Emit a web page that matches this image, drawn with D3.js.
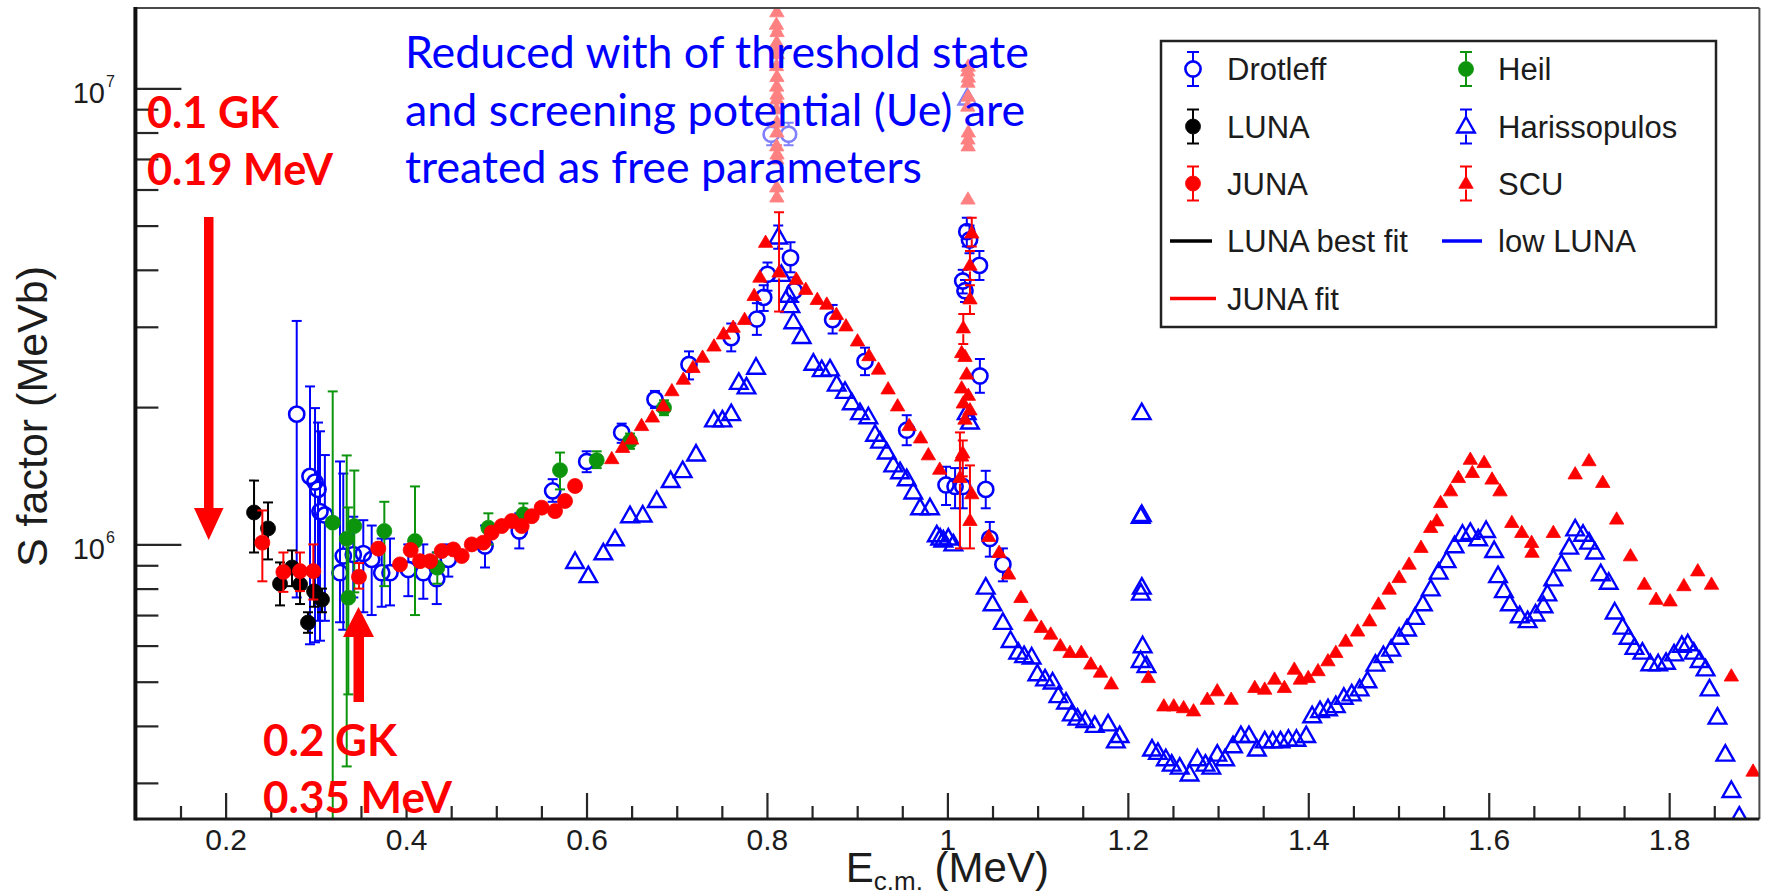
<!DOCTYPE html>
<html>
<head>
<meta charset="utf-8">
<script src="https://cdn.jsdelivr.net/npm/d3@7"></script>
<style>
  html, body { margin: 0; padding: 0; background: #ffffff; }
  svg { display: block; }
</style>
</head>
<body>
<svg id="chart" width="1770" height="896"></svg>
<script>
// ---------------------------------------------------------------
// S-factor data sets: [E_cm (MeV), S (MeV b), S_low, S_high]
// (S_low / S_high are the ends of the error bar, omitted if tiny)
// ---------------------------------------------------------------
const drotleff = [
  [0.2788, 1.93e6, 7.65e5, 3.09e6], [0.2935, 1.41e6, 6.04e5, 2.22e6],
  [0.2991, 1.37e6, 6.1e5, 1.99e6], [0.3024, 1.32e6, 6.8e5, 1.85e6],
  [0.3046, 1.18e6, 6.15e5, 1.77e6], [0.3100, 1.16e6, 6.8e5, 1.57e6],
  [0.3268, 8.67e5, 6.75e5, 1.52e6], [0.3304, 9.43e5, 6.5e5, 1.43e6],
  [0.3415, 9.5e5, 7.65e5, 1.15e6], [0.3526, 9.55e5, 7.1e5, 1.13e6],
  [0.3619, 9.27e5, 7.0e5, 1.10e6], [0.3730, 8.67e5, 7.3e5, 1.03e6],
  [0.3822, 8.67e5, 7.35e5, 1.03e6], [0.4025, 8.81e5, 7.7e5, 1.0e6],
  [0.4191, 8.67e5, 7.6e5, 1.0e6], [0.4340, 8.41e5, 7.4e5, 9.6e5],
  [0.4468, 9.27e5, 8.5e5, 1.0e6], [0.4875, 9.92e5, 8.9e5, 1.10e6],
  [0.5255, 1.07e6, 9.8e5, 1.17e6], [0.5625, 1.31e6, 1.24e6, 1.39e6],
  [0.6002, 1.52e6, 1.44e6, 1.60e6], [0.6390, 1.76e6, 1.67e6, 1.84e6],
  [0.6759, 2.08e6, 1.99e6, 2.17e6], [0.7136, 2.48e6, 2.30e6, 2.65e6],
  [0.7604, 2.84e6, 2.65e6, 3.05e6], [0.7888, 3.12e6, 2.88e6, 3.38e6],
  [0.7964, 3.48e6, 3.25e6, 3.70e6], [0.8006, 3.91e6, 3.60e6, 4.15e6],
  [0.8261, 4.25e6, 3.95e6, 4.60e6], [0.8303, 3.60e6, 3.40e6, 3.85e6],
  [0.8047, 7.93e6, 7.5e6, 8.4e6], [0.8240, 7.93e6, 7.5e6, 8.4e6],
  [0.8728, 3.11e6, 2.90e6, 3.35e6], [0.9087, 2.52e6, 2.35e6, 2.70e6],
  [0.9549, 1.78e6, 1.65e6, 1.92e6], [0.9985, 1.35e6, 1.22e6, 1.48e6],
  [1.0085, 1.34e6, 1.20e6, 1.47e6], [1.0170, 1.34e6, 1.20e6, 1.47e6],
  [1.0215, 4.85e6, 4.50e6, 5.20e6], [1.0245, 4.65e6, 4.35e6, 5.00e6],
  [1.0355, 4.09e6, 3.80e6, 4.40e6], [1.0170, 3.78e6, 3.55e6, 4.00e6],
  [1.0195, 3.60e6, 3.40e6, 3.80e6], [1.0360, 2.34e6, 2.15e6, 2.55e6],
  [1.0425, 1.32e6, 1.20e6, 1.45e6], [1.0470, 1.03e6, 9.4e5, 1.12e6],
  [1.0615, 9.04e5, 8.3e5, 9.8e5]
];

const luna = [
  [0.2315, 1.175e6, 9.6e5, 1.38e6], [0.2470, 1.084e6, 9.27e5, 1.236e6],
  [0.2603, 8.2e5, 7.35e5, 9.13e5], [0.2736, 8.9e5, 8.1e5, 9.7e5],
  [0.2825, 8.17e5, 7.4e5, 8.9e5], [0.2913, 6.74e5, 6.4e5, 7.1e5],
  [0.2980, 7.89e5, 7.3e5, 8.5e5], [0.3068, 7.57e5, 7.1e5, 8.0e5]
];

const juna = [
  [0.2407, 1.009e6, 8.3e5, 1.187e6], [0.2640, 8.70e5, 7.87e5, 9.6e5],
  [0.2824, 8.74e5, 7.9e5, 9.6e5], [0.2972, 8.74e5, 7.57e5, 1.0e6],
  [0.3478, 8.49e5, 8.0e5, 9.1e5], [0.3692, 9.79e5], [0.3933, 9.04e5],
  [0.4051, 9.72e5], [0.4155, 9.19e5], [0.4266, 9.19e5], [0.4395, 9.67e5],
  [0.4524, 9.75e5], [0.4617, 9.43e5], [0.4728, 1.0e6], [0.4856, 1.009e6],
  [0.4949, 1.061e6], [0.5060, 1.097e6], [0.5171, 1.125e6], [0.5282, 1.097e6],
  [0.5393, 1.153e6], [0.5503, 1.204e6], [0.5651, 1.183e6], [0.5762, 1.245e6],
  [0.5873, 1.343e6]
];

const heil = [
  [0.3187, 1.116e6, 1.0e5, 2.165e6], [0.3342, 1.029e6, 3.26e5, 1.567e6],
  [0.3360, 7.64e5, 4.69e5, 1.205e6], [0.3426, 1.097e6, 7.85e5, 1.452e6],
  [0.3759, 1.07e6, 8.1e5, 1.24e6], [0.4099, 1.017e6, 7.0e5, 1.34e6],
  [0.4346, 8.89e5, 8.2e5, 9.6e5], [0.4912, 1.088e6, 1.0e6, 1.17e6],
  [0.5300, 1.164e6, 1.10e6, 1.23e6], [0.5706, 1.455e6, 1.32e6, 1.59e6],
  [0.6113, 1.53e6, 1.47e6, 1.60e6], [0.6482, 1.685e6, 1.62e6, 1.75e6],
  [0.6859, 1.994e6, 1.92e6, 2.07e6]
];

const harissopulos = [
  [0.5873, 9.15e5], [0.6020, 8.52e5], [0.6186, 9.56e5], [0.6316, 1.026e6],
  [0.6482, 1.153e6], [0.6623, 1.157e6], [0.6778, 1.245e6], [0.6933, 1.377e6],
  [0.7066, 1.448e6], [0.7214, 1.574e6], [0.7413, 1.87e6], [0.7506, 1.87e6],
  [0.7604, 1.93e6], [0.7688, 2.26e6], [0.7773, 2.21e6], [0.7879, 2.44e6],
  [0.8125, 4.71e6, 4.45e6, 5.0e6], [0.8160, 3.90e6], [0.8240, 3.51e6],
  [0.8260, 3.33e6], [0.8292, 3.07e6], [0.8385, 2.85e6], [0.8514, 2.49e6],
  [0.8607, 2.41e6], [0.8699, 2.42e6], [0.8773, 2.24e6], [0.8865, 2.16e6],
  [0.8940, 2.04e6], [0.9031, 1.94e6], [0.9124, 1.90e6], [0.9198, 1.74e6],
  [0.9253, 1.68e6], [0.9327, 1.59e6], [0.9400, 1.49e6], [0.9475, 1.44e6],
  [0.9549, 1.39e6], [0.9622, 1.30e6], [0.9697, 1.20e6], [0.9807, 1.20e6],
  [0.9882, 1.047e6], [0.9920, 1.03e6], [0.9955, 1.02e6], [1.0010, 1.03e6],
  [1.0066, 1.0e6], [1.0214, 1.94e6], [1.0250, 1.85e6], [1.0220, 9.5e6],
  [1.0425, 8.04e5], [1.0500, 7.39e5], [1.0615, 6.73e5], [1.0700, 6.14e5],
  [1.0785, 5.79e5], [1.0850, 5.69e5], [1.0934, 5.65e5], [1.0997, 5.19e5],
  [1.1082, 5.06e5], [1.1166, 4.98e5], [1.1230, 4.65e5], [1.1315, 4.5e5],
  [1.1379, 4.24e5], [1.1442, 4.15e5], [1.1528, 4.1e5], [1.1633, 4.0e5],
  [1.1781, 4.03e5], [1.1867, 3.7e5], [1.1909, 3.8e5],
  [1.2154, 1.94e6], [1.2142, 1.15e6], [1.2155, 1.16e6], [1.2155, 8.04e5],
  [1.2145, 7.8e5], [1.2164, 5.98e5], [1.2142, 5.55e5], [1.2206, 5.41e5],
  [1.2268, 3.55e5], [1.2333, 3.49e5], [1.2421, 3.38e5], [1.2486, 3.29e5],
  [1.2575, 3.24e5], [1.2684, 3.13e5], [1.2771, 3.38e5], [1.2860, 3.29e5],
  [1.2925, 3.24e5], [1.2991, 3.46e5], [1.3078, 3.38e5], [1.3166, 3.61e5],
  [1.3253, 3.8e5], [1.3342, 3.8e5], [1.3430, 3.55e5], [1.3517, 3.7e5],
  [1.3605, 3.7e5], [1.3692, 3.7e5], [1.3780, 3.73e5], [1.3869, 3.73e5],
  [1.3977, 3.8e5], [1.4043, 4.2e5], [1.4130, 4.31e5], [1.4219, 4.35e5],
  [1.4305, 4.42e5], [1.4394, 4.61e5], [1.4481, 4.69e5], [1.4569, 4.81e5],
  [1.4656, 5.01e5], [1.4744, 5.45e5], [1.4832, 5.69e5], [1.4919, 5.88e5],
  [1.5007, 6.24e5], [1.5095, 6.51e5], [1.5182, 6.9e5], [1.5270, 7.39e5],
  [1.5357, 7.97e5], [1.5445, 8.67e5], [1.5533, 9.19e5], [1.5621, 9.91e5],
  [1.5709, 1.05e6], [1.5796, 1.06e6], [1.5884, 1.026e6], [1.5971, 1.07e6],
  [1.6060, 9.67e5], [1.6103, 8.52e5], [1.6168, 7.9e5], [1.6234, 7.39e5],
  [1.6343, 6.96e5], [1.6431, 6.79e5], [1.6519, 7.02e5], [1.6607, 7.32e5],
  [1.6650, 7.77e5], [1.6716, 8.38e5], [1.6805, 9.04e5], [1.6892, 9.84e5],
  [1.6958, 1.079e6], [1.7045, 1.05e6], [1.7112, 1.009e6], [1.7177, 9.6e5],
  [1.7242, 8.6e5], [1.7330, 8.24e5], [1.7396, 7.09e5], [1.7484, 6.57e5],
  [1.7550, 6.24e5], [1.7615, 5.93e5], [1.7703, 5.79e5], [1.7791, 5.46e5],
  [1.7878, 5.46e5], [1.7965, 5.5e5], [1.8054, 5.74e5], [1.8140, 5.99e5],
  [1.8206, 6.04e5], [1.8272, 5.79e5], [1.8338, 5.55e5], [1.8403, 5.32e5],
  [1.8447, 4.81e5], [1.8535, 4.17e5], [1.8622, 3.46e5], [1.8689, 2.88e5],
  [1.8777, 2.53e5]
];

const scu = [
  [0.6280, 1.54e6], [0.6400, 1.63e6], [0.6500, 1.70e6], [0.6610, 1.82e6],
  [0.6730, 1.90e6], [0.6850, 2.01e6], [0.6946, 2.17e6], [0.7073, 2.30e6],
  [0.7180, 2.44e6], [0.7286, 2.57e6], [0.7413, 2.72e6], [0.7519, 2.89e6],
  [0.7625, 2.99e6], [0.7752, 3.11e6], [0.7858, 3.51e6], [0.7922, 3.85e6],
  [0.7985, 4.59e6], [0.8134, 3.95e6, 3.24e6, 5.35e6],
  // narrow resonance near 0.81 MeV
  [0.8110, 1.47e7], [0.8105, 1.38e7], [0.8112, 1.33e7], [0.8108, 1.26e7],
  [0.8110, 1.22e7, 1.12e7, 1.33e7], [0.8114, 1.19e7], [0.8106, 1.12e7],
  [0.8110, 1.06e7], [0.8108, 1.01e7], [0.8112, 9.7e6],
  [0.8110, 9.46e6, 9.0e6, 1.0e7], [0.8106, 9.0e6], [0.8112, 8.42e6],
  [0.8110, 8.01e6], [0.8108, 7.47e6], [0.8112, 7.17e6, 6.9e6, 7.5e6],
  [0.8110, 6.99e6], [0.8108, 6.07e6], [0.8110, 5.77e6],
  [0.8325, 3.81e6], [0.8430, 3.62e6], [0.8558, 3.44e6], [0.8663, 3.36e6],
  [0.8770, 3.19e6], [0.8876, 3.01e6], [0.9004, 2.79e6], [0.9131, 2.59e6],
  [0.9237, 2.42e6], [0.9343, 2.19e6], [0.9448, 2.01e6], [0.9576, 1.82e6],
  [0.9703, 1.71e6], [0.9789, 1.57e6], [0.9915, 1.46e6],
  // narrow resonance near 1.02 MeV
  [1.0230, 1.117e7], [1.0225, 1.09e7], [1.0232, 1.057e7], [1.0228, 1.03e7],
  [1.0230, 9.6e6], [1.0226, 9.13e6], [1.0232, 8.01e6], [1.0228, 7.73e6],
  [1.0230, 7.47e6], [1.0228, 5.71e6],
  [1.0270, 4.81e6, 4.50e6, 5.20e6], [1.0250, 4.09e6, 3.80e6, 4.40e6],
  [1.0250, 3.45e6, 3.20e6, 3.70e6], [1.0176, 2.98e6, 2.75e6, 3.20e6],
  [1.0158, 2.63e6], [1.0195, 2.58e6], [1.0214, 2.36e6], [1.0158, 2.20e6],
  [1.0232, 2.12e6], [1.0176, 2.04e6], [1.0250, 1.97e6], [1.0195, 1.88e6],
  [1.0170, 1.585e6, 1.41e6, 1.69e6], [1.0158, 1.56e6],
  [1.0139, 1.40e6, 9.8e5, 1.76e6], [1.0270, 1.29e6],
  [1.0250, 1.127e6, 9.8e5, 1.49e6],
  [1.0458, 1.04e6], [1.0573, 9.59e5], [1.0678, 8.6e5], [1.0815, 7.64e5],
  [1.0925, 6.96e5], [1.1040, 6.57e5], [1.1145, 6.35e5], [1.1252, 5.99e5],
  [1.1358, 5.79e5], [1.1484, 5.79e5], [1.1590, 5.46e5], [1.1697, 5.24e5],
  [1.1816, 4.94e5], [1.2227, 5.1e5], [1.2399, 4.42e5], [1.2509, 4.42e5],
  [1.2618, 4.38e5], [1.2728, 4.31e5], [1.2881, 4.57e5], [1.2991, 4.77e5],
  [1.3145, 4.57e5], [1.3407, 4.85e5], [1.3517, 4.81e5], [1.3627, 5.06e5],
  [1.3735, 4.85e5], [1.3845, 5.32e5], [1.3912, 5.06e5], [1.4000, 5.1e5],
  [1.4108, 5.28e5], [1.4218, 5.55e5], [1.4305, 5.79e5], [1.4415, 6.13e5],
  [1.4547, 6.45e5], [1.4679, 6.79e5], [1.4778, 7.39e5], [1.4897, 7.97e5],
  [1.5007, 8.45e5], [1.5117, 9.04e5], [1.5249, 9.84e5], [1.5357, 1.088e6],
  [1.5424, 1.125e6], [1.5467, 1.234e6], [1.5577, 1.309e6], [1.5664, 1.40e6],
  [1.5796, 1.535e6], [1.5818, 1.436e6], [1.5949, 1.51e6], [1.6037, 1.389e6],
  [1.6125, 1.309e6], [1.6256, 1.116e6], [1.6366, 1.061e6], [1.6475, 1.009e6],
  [1.6480, 9.6e5], [1.6716, 1.061e6], [1.6958, 1.426e6], [1.7111, 1.524e6],
  [1.7264, 1.366e6], [1.7418, 1.135e6], [1.7571, 9.43e5], [1.7725, 8.17e5],
  [1.7855, 7.57e5], [1.8010, 7.51e5], [1.8163, 8.11e5], [1.8317, 8.74e5],
  [1.8469, 8.17e5], [1.8689, 5.14e5], [1.8930, 3.18e5]
];

// axis ticks and labels
const xMajorTicks = [0.2, 0.4, 0.6, 0.8, 1.0, 1.2, 1.4, 1.6, 1.8];
const xTickLabels = ["0.2", "0.4", "0.6", "0.8", "1", "1.2", "1.4", "1.6", "1.8"];
const yMajorTicks = [1e6, 1e7];
const yTickExponents = ["6", "7"];
const yMinorTicks = [3e5, 4e5, 5e5, 6e5, 7e5, 8e5, 9e5, 2e6, 3e6, 4e6, 5e6, 6e6, 7e6, 8e6, 9e6];

// legend entries
const legendEntries = [
  { label: "Drotleff",      kind: "marker", series: "drotleff" },
  { label: "Heil",          kind: "marker", series: "heil" },
  { label: "LUNA",          kind: "marker", series: "luna" },
  { label: "Harissopulos",  kind: "marker", series: "harissopulos" },
  { label: "JUNA",          kind: "marker", series: "juna" },
  { label: "SCU",           kind: "marker", series: "scu" },
  { label: "LUNA best fit", kind: "line",   color: "#000000" },
  { label: "low LUNA",      kind: "line",   color: "#0000ff" },
  { label: "JUNA fit",      kind: "line",   color: "#ff0000" }
];

// annotation texts
const noteLines = ["Reduced with of threshold state",
                   "and screening potential (Ue) are",
                   "treated as free parameters"];
const lowTempLabel = ["0.1 GK", "0.19 MeV"];
const highTempLabel = ["0.2 GK", "0.35 MeV"];

// ---------------------------------------------------------------
const AXIS_FONT = "'Liberation Sans', Arial, Helvetica, sans-serif";
const NOTE_FONT = "Lato, 'Open Sans', sans-serif";
const TEXT_COLOR = "#1c1c1c";

const styles = {
  drotleff:     { color: "#0000ff", shape: "circle",   filled: false },
  luna:         { color: "#000000", shape: "circle",   filled: true },
  juna:         { color: "#ff0000", shape: "circle",   filled: true },
  heil:         { color: "#0c950c", shape: "circle",   filled: true },
  harissopulos: { color: "#0000ff", shape: "triangle", filled: false },
  scu:          { color: "#ff0000", shape: "triangleS", filled: true }
};
const seriesData = { drotleff, luna, juna, heil, harissopulos, scu };

const frame = { l: 135.4, r: 1759.4, t: 8, b: 819 };

const x = d3.scaleLinear().domain([0.1, 1.9]).range([frame.l, frame.r]);
const y = d3.scaleLog().domain([2.5e5, 1.5e7]).range([frame.b, frame.t]);

const svg = d3.select("#chart");
svg.append("rect").attr("width", 1770).attr("height", 896).attr("fill", "#ffffff");

svg.append("defs").append("clipPath").attr("id", "plotClip")
  .append("rect")
  .attr("x", frame.l).attr("y", frame.t)
  .attr("width", frame.r - frame.l).attr("height", frame.b - frame.t);

// marker geometry (half extent used to stop error bars at the marker edge)
function markerPath(shape) {
  if (shape === "triangle") return "M0,-9.5L8.8,6L-8.8,6Z";
  if (shape === "triangleS") return "M0,-7.5L7.2,4.8L-7.2,4.8Z";
  return null;
}
function markerGap(shape) {
  return shape === "triangle" ? 8 : shape === "triangleS" ? 6 : 7.5;
}

function drawMarker(g, cx, cy, st) {
  if (st.shape === "circle") {
    g.append("circle")
      .attr("cx", cx).attr("cy", cy)
      .attr("r", st.filled ? 7.5 : 7.6)
      .attr("fill", st.filled ? st.color : "none")
      .attr("stroke", st.color)
      .attr("stroke-width", st.filled ? 0.8 : 2.6);
  } else {
    g.append("path")
      .attr("d", markerPath(st.shape))
      .attr("transform", `translate(${cx},${cy})`)
      .attr("fill", st.filled ? st.color : "none")
      .attr("stroke", st.color)
      .attr("stroke-width", st.filled ? 0.8 : 2.4)
      .attr("stroke-linejoin", "miter");
  }
}

function drawErrorBar(g, cx, yTop, yBot, cy, gap, color, cap) {
  const segs = [];
  if (yTop != null && yTop < cy - gap) segs.push([yTop, cy - gap]);
  if (yBot != null && yBot > cy + gap) segs.push([cy + gap, yBot]);
  segs.forEach(([a, b]) => {
    g.append("line").attr("x1", cx).attr("x2", cx).attr("y1", a).attr("y2", b)
      .attr("stroke", color).attr("stroke-width", 2);
  });
  [yTop, yBot].forEach(v => {
    if (v == null) return;
    g.append("line").attr("x1", cx - cap).attr("x2", cx + cap).attr("y1", v).attr("y2", v)
      .attr("stroke", color).attr("stroke-width", 2);
  });
}

// ---------------- data layer ----------------
const plot = svg.append("g").attr("clip-path", "url(#plotClip)");
const drawOrder = ["drotleff", "luna", "heil", "juna", "harissopulos", "scu"];

drawOrder.forEach(name => {
  const st = styles[name];
  const g = plot.append("g").attr("class", "series-" + name);
  const gap = markerGap(st.shape);
  seriesData[name].forEach(d => {
    if (d.length >= 4) {
      const cx = x(d[0]), cy = y(d[1]);
      drawErrorBar(g, cx, y(d[3]), y(d[2]), cy, gap, st.color, 5);
    }
  });
  seriesData[name].forEach(d => drawMarker(g, x(d[0]), y(d[1]), st));
});

// ---------------- frame and axes ----------------
const axes = svg.append("g");
axes.append("line").attr("x1", frame.l).attr("x2", frame.r).attr("y1", frame.t).attr("y2", frame.t)
  .attr("stroke", "#4a4a4a").attr("stroke-width", 2);
axes.append("line").attr("x1", frame.r).attr("x2", frame.r).attr("y1", frame.t).attr("y2", frame.b)
  .attr("stroke", "#4a4a4a").attr("stroke-width", 2);

const xMinorTicks = d3.range(0.15, 1.9, 0.05)
  .filter(v => !xMajorTicks.some(m => Math.abs(m - v) < 1e-6));

const xAxisMinor = d3.axisBottom(x).tickValues(xMinorTicks).tickSize(-13).tickFormat("");
const xAxisMajor = d3.axisBottom(x).tickValues(xMajorTicks).tickSize(-26).tickPadding(10)
  .tickFormat((d, i) => xTickLabels[i]);

function styleAxis(sel) {
  sel.select(".domain").remove();
  sel.selectAll(".tick line").attr("stroke", "#262626").attr("stroke-width", 2.2);
  sel.selectAll(".tick text")
    .attr("fill", TEXT_COLOR)
    .style("font-family", AXIS_FONT)
    .style("font-size", "30px");
}

axes.append("g").attr("transform", `translate(0,${frame.b})`).call(xAxisMinor).call(styleAxis);
axes.append("g").attr("transform", `translate(0,${frame.b})`).call(xAxisMajor).call(styleAxis);

const yAxisMinor = d3.axisLeft(y).tickValues(yMinorTicks).tickSize(-23).tickFormat("");
const yAxisMajor = d3.axisLeft(y).tickValues(yMajorTicks).tickSize(-46).tickFormat("");
axes.append("g").attr("transform", `translate(${frame.l},0)`).call(yAxisMinor).call(styleAxis);
axes.append("g").attr("transform", `translate(${frame.l},0)`).call(yAxisMajor).call(styleAxis);

// y tick labels written as powers of ten
yMajorTicks.forEach((v, i) => {
  const ty = y(v);
  axes.append("text")
    .attr("x", 105).attr("y", ty + 15)
    .attr("text-anchor", "end")
    .attr("fill", TEXT_COLOR)
    .style("font-family", AXIS_FONT).style("font-size", "29px")
    .text("10");
  axes.append("text")
    .attr("x", 106).attr("y", ty - 1)
    .attr("fill", TEXT_COLOR)
    .style("font-family", AXIS_FONT).style("font-size", "16px")
    .text(yTickExponents[i]);
});

// main axis lines
axes.append("line").attr("x1", frame.l).attr("x2", frame.r).attr("y1", frame.b).attr("y2", frame.b)
  .attr("stroke", "#1a1a1a").attr("stroke-width", 3);
axes.append("line").attr("x1", frame.l).attr("x2", frame.l).attr("y1", frame.t - 1).attr("y2", frame.b + 1.5)
  .attr("stroke", "#111111").attr("stroke-width", 4);

// axis titles
const xTitle = axes.append("text")
  .attr("x", (frame.l + frame.r) / 2).attr("y", 882)
  .attr("text-anchor", "middle")
  .attr("fill", TEXT_COLOR)
  .style("font-family", AXIS_FONT).style("font-size", "42px");
xTitle.append("tspan").text("E");
xTitle.append("tspan").attr("dy", 8).style("font-size", "26px").text("c.m.");
xTitle.append("tspan").attr("dy", -8).text(" (MeV)");

axes.append("text")
  .attr("transform", `translate(47,${(frame.t + frame.b) / 2 + 3}) rotate(-90)`)
  .attr("text-anchor", "middle")
  .attr("fill", TEXT_COLOR)
  .style("font-family", AXIS_FONT).style("font-size", "43px")
  .text("S factor (MeVb)");

// ---------------- legend ----------------
const lg = svg.append("g");
const legendBox = { x: 1161, y: 41, w: 555, h: 286 };
lg.append("rect")
  .attr("x", legendBox.x).attr("y", legendBox.y)
  .attr("width", legendBox.w).attr("height", legendBox.h)
  .attr("fill", "#ffffff").attr("stroke", "#222222").attr("stroke-width", 2.5);

const rowY = [69, 126.5, 183.5, 241, 298.5];
const colMarkX = [1193, 1466];
const colTextX = [1227, 1498];
const colLine = [[1170, 1212], [1442, 1482]];

legendEntries.forEach((e, i) => {
  const row = Math.floor(i / 2), col = i % 2;
  const cy = rowY[row];
  if (e.kind === "marker") {
    const st = styles[e.series];
    drawErrorBar(lg, colMarkX[col], cy - 17, cy + 17, cy, markerGap(st.shape), st.color, 6);
    drawMarker(lg, colMarkX[col], cy, st);
  } else {
    const [a, b] = colLine[col];
    lg.append("line").attr("x1", a).attr("x2", e.label === "JUNA fit" ? b + 4 : b)
      .attr("y1", cy).attr("y2", cy)
      .attr("stroke", e.color).attr("stroke-width", 3.5);
  }
  lg.append("text")
    .attr("x", colTextX[col]).attr("y", cy + 11)
    .attr("fill", TEXT_COLOR)
    .style("font-family", AXIS_FONT).style("font-size", "31px")
    .text(e.label);
});

// ---------------- annotations ----------------
const notes = svg.append("g");

// translucent backing of the note box (lightens the points underneath)
notes.append("rect")
  .attr("x", 396).attr("y", frame.t + 1).attr("width", 654).attr("height", 198)
  .attr("fill", "#ffffff").attr("fill-opacity", 0.5);

// size a group of lines so that the reference line spans the given width
function fitLines(lines, opts) {
  const els = lines.map((t, i) => notes.append("text")
    .attr("x", opts.x).attr("y", opts.baselines[i])
    .attr("fill", opts.color)
    .style("font-family", NOTE_FONT)
    .style("font-weight", opts.weight)
    .style("font-size", opts.size + "px")
    .text(t));
  const w = els[opts.ref].node().getComputedTextLength();
  if (w > 0) {
    const fs = opts.size * opts.width / w;
    els.forEach(el => el.style("font-size", fs + "px"));
  }
}

fitLines(noteLines, { x: 405, baselines: [68, 126, 183], color: "#0000ff",
  weight: 400, size: 40, ref: 0, width: 624 });
fitLines(lowTempLabel, { x: 147, baselines: [128, 185], color: "#ff0000",
  weight: 700, size: 42, ref: 1, width: 186 });
fitLines(highTempLabel, { x: 263, baselines: [756, 813], color: "#ff0000",
  weight: 700, size: 42, ref: 1, width: 189 });

// temperature arrows
const arrows = svg.append("g").attr("fill", "#ff0000");
arrows.append("path")   // pointing down at 0.19 MeV
  .attr("d", "M204,217H213.5V508H223.5L208.7,540L194,508H204Z");
arrows.append("path")   // pointing up at 0.35 MeV
  .attr("d", "M353.5,702V637H343L358.5,607L374,637H364V702Z");
</script>
</body>
</html>
